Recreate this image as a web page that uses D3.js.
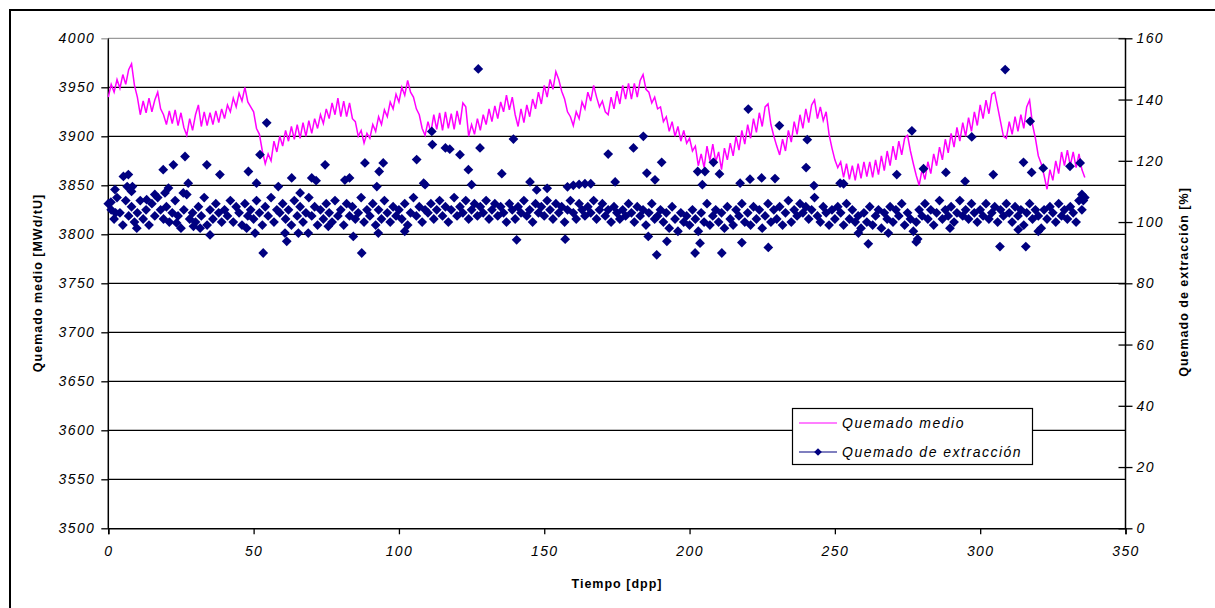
<!DOCTYPE html>
<html>
<head>
<meta charset="utf-8">
<script src="https://cdn.jsdelivr.net/npm/d3@7"></script>
<style>
  body { margin: 0; background: #fff; }
  svg { display: block; }
  .tick text { font-family: "Liberation Sans", Arial, sans-serif; font-style: italic; font-size: 14px; letter-spacing: 1.4px; fill: #000; }
  .axis-title { font-family: "Liberation Sans", Arial, sans-serif; font-weight: bold; font-size: 12.5px; letter-spacing: 1px; fill: #000; }
  .legend text { font-family: "Liberation Sans", Arial, sans-serif; font-style: italic; font-size: 14px; letter-spacing: 1.5px; fill: #000; }
</style>
</head>
<body>
<svg id="chart" width="1215" height="608"></svg>
<script>
// tick values
const xTicks = [0, 50, 100, 150, 200, 250, 300, 350];
const leftTicks = [3500, 3550, 3600, 3650, 3700, 3750, 3800, 3850, 3900, 3950, 4000];
const rightTicks = [0, 20, 40, 60, 80, 100, 120, 140, 160];

// Quemado medio [MWd/tU], one value per dpp (day 0 .. 336)
const quemadoMedio = [
  3940, 3953, 3945, 3958, 3949, 3963, 3953, 3968, 3974, 3952,
  3940, 3922, 3936, 3924, 3939, 3925, 3937, 3945, 3928, 3922,
  3912, 3926, 3913, 3927, 3911, 3924, 3909, 3901, 3918, 3906,
  3922, 3932, 3910, 3925, 3911, 3924, 3912, 3926, 3914, 3928,
  3918, 3932, 3925, 3939, 3930, 3944, 3936, 3950, 3935, 3930,
  3925, 3908, 3902, 3885, 3872, 3882, 3875, 3895, 3884, 3900,
  3890, 3906, 3895, 3910, 3897, 3912, 3898, 3914, 3900, 3916,
  3903, 3918, 3908, 3922, 3913, 3928, 3918, 3934, 3922, 3939,
  3920, 3936, 3920, 3934, 3918, 3915, 3900, 3906, 3893, 3903,
  3898, 3912, 3905, 3920, 3912, 3927, 3920, 3935, 3928, 3943,
  3935, 3950, 3942, 3957, 3945, 3940, 3928, 3922, 3908, 3901,
  3915, 3904, 3922, 3907, 3924, 3906, 3925, 3908, 3923, 3907,
  3926, 3912, 3934, 3930, 3900, 3912, 3902, 3918, 3906, 3922,
  3912, 3928, 3915, 3931, 3918, 3935, 3925, 3942, 3927, 3940,
  3922, 3910, 3928, 3914, 3932, 3920, 3938, 3928, 3945, 3933,
  3952, 3940, 3958, 3948, 3966, 3958, 3946, 3938, 3925, 3920,
  3911, 3925, 3918, 3935, 3928, 3945, 3936, 3952, 3940, 3930,
  3936, 3925, 3922, 3940, 3928, 3946, 3933, 3952, 3938, 3954,
  3938, 3954, 3940, 3957, 3963, 3948, 3945, 3934, 3940, 3928,
  3930, 3915, 3920, 3905, 3915, 3900, 3910, 3895, 3906, 3893,
  3898, 3885, 3890, 3870, 3882, 3868, 3890, 3875, 3892, 3874,
  3884, 3866, 3888, 3876, 3893, 3880, 3900, 3886, 3906, 3892,
  3912, 3898, 3918, 3904, 3924, 3910, 3930, 3933, 3912, 3900,
  3890, 3881, 3897, 3885, 3906, 3894, 3915, 3902, 3922, 3908,
  3928, 3914, 3932, 3937, 3918, 3930, 3916, 3925, 3902, 3888,
  3876, 3868, 3874, 3858, 3872, 3856, 3870, 3855, 3872, 3857,
  3874, 3859, 3874, 3858, 3876, 3861, 3880, 3865, 3885, 3870,
  3890, 3876, 3895, 3881, 3898, 3901, 3885, 3872, 3860, 3850,
  3866, 3856, 3874, 3862, 3882, 3870, 3889, 3876, 3897, 3883,
  3903, 3889, 3909, 3895, 3914, 3900, 3919, 3905, 3925, 3911,
  3932, 3918, 3937, 3923, 3943, 3945, 3930, 3915, 3900, 3898,
  3915, 3902, 3920, 3905, 3922, 3908, 3930, 3937, 3912, 3898,
  3880, 3872, 3860, 3846, 3866, 3855, 3875, 3862, 3884, 3870,
  3886, 3870, 3884, 3868, 3882, 3866, 3858
];

// Quemado de extracción [%], one extraction per dpp (day 0 .. 336)
const extraccionDiaria = [
  106, 104, 101, 108, 103, 99, 107, 102, 105, 100,
  103, 107, 101, 104, 99, 106, 102, 108, 104, 101,
  105, 100, 103, 107, 102, 98, 104, 109, 101, 103,
  100, 105, 102, 108, 99, 104, 101, 106, 103, 100,
  104, 102, 107, 100, 105, 103, 99, 106, 102, 104,
  101, 107, 103, 99, 105, 102, 108, 100, 104, 103,
  106, 101, 104, 99, 107, 102, 105, 100, 103, 108,
  102, 105, 99, 104, 101, 106, 103, 100, 107, 102,
  104, 99, 106, 102, 105, 101, 103, 108, 100, 104,
  102, 106, 99, 104, 101, 107, 103, 100, 105, 102,
  104, 101, 106, 99, 103, 108, 102, 105, 100, 104,
  103, 106, 101, 104, 107, 102, 105, 100, 104, 108,
  102, 105, 103, 107, 101, 104, 106, 102, 105, 103,
  107, 101, 104, 106, 102, 105, 103, 100, 106, 104,
  101, 105, 103, 107, 102, 104, 100, 106, 103, 105,
  102, 107, 104, 101, 106, 103, 105, 100, 104, 107,
  103, 101, 106, 104, 102, 105, 103, 107, 101, 104,
  106, 102, 104, 100, 105, 103, 101, 104, 102, 106,
  103, 100, 105, 102, 104, 99, 103, 106, 101, 102,
  104, 100, 103, 98, 105, 101, 97, 103, 100, 102,
  99, 104, 101, 97, 103, 100, 106, 99, 102, 104,
  100, 103, 98, 105, 101, 99, 104, 102, 106, 100,
  103, 99, 105, 101, 104, 98, 102, 106, 100, 104,
  101, 105, 99, 103, 107, 100, 104, 102, 106, 103,
  105, 101, 104, 108, 102, 100, 105, 103, 99, 104,
  101, 105, 103, 99, 106, 101, 104, 100, 102, 98,
  103, 100, 105, 99, 102, 104, 98, 103, 101, 105,
  100, 104, 102, 106, 99, 103, 101, 97, 100, 104,
  102, 106, 101, 104, 99, 103, 107, 101, 104, 102,
  105, 100, 103, 107, 102, 104, 101, 106, 103, 100,
  104, 102, 106, 101, 103, 105, 100, 104, 102, 106,
  103, 100, 105, 102, 104, 99, 103, 106, 101, 104,
  102, 98, 104, 101, 105, 103, 100, 106, 102, 104,
  101, 105, 103, 100, 107, 104, 108
];

// additional extractions: [dpp, %]
const extraccionExtra = [
  [0.9, 106.5], [2.3, 110.6], [2.5, 103], [5.2, 114.9], [6.9, 115.5], [6.5, 111.6], [8, 110], [8.3, 111.6], [9.8, 98], [13.2, 107.3],
  [16, 109], [18.9, 117.1], [19.5, 109.5], [20.7, 111.1], [22.4, 118.7], [23.5, 99.7], [25.8, 109.5], [26.4, 121.4], [27.5, 112.7], [29.3, 98.6],
  [31.6, 98], [33.9, 118.7], [35, 95.8], [38.4, 115.5], [47.6, 98], [48.2, 116.5], [50.5, 96.4], [51, 112.7], [52.2, 122], [53.3, 89.9],
  [54.5, 132.4], [58.5, 111.6], [60.8, 96.4], [61.4, 93.7], [63.1, 114.4], [65.4, 96.4], [66, 109.5], [68.8, 96.4], [70, 114.4], [71.5, 113.5],
  [74.6, 118.7], [75.7, 98.6], [81.4, 113.7], [83, 114.4], [84.3, 95.3], [87.2, 89.9], [88.3, 119.3], [92.4, 111.6], [92.9, 96.4], [93.2, 116.5],
  [94.6, 119.3], [102, 97], [106.1, 120.4], [108.5, 112.7], [109, 112.2], [111.3, 129.6], [111.5, 125.3], [116, 124.2], [117.5, 123.8], [121, 122],
  [123.9, 117.1], [125, 112.2], [127.3, 150], [127.9, 124.2], [135.4, 115.8], [139.4, 127.1], [140.5, 94.2], [145.1, 113.1], [147.4, 110.5], [151, 111],
  [157.2, 94.4], [158, 111.5], [160, 112], [162, 112.3], [164, 112.5], [166, 112.5], [172, 122.2], [174.4, 113.1], [180.7, 124.2], [184.1, 128],
  [185.3, 116], [185.8, 95.3], [188.1, 113.8], [188.7, 89.3], [190.4, 119.5], [192.2, 93.7], [201.9, 89.9], [203.6, 93.1], [202.8, 116.5], [205.3, 116.5],
  [204.4, 112.2], [208.2, 119.5], [210.3, 115.7], [211.1, 89.9], [217.4, 112.7], [218, 93.3], [220.2, 136.9], [220.8, 114], [224.8, 114.4], [227.1, 91.7],
  [229.4, 114.2], [230.9, 131.5], [240.1, 117.8], [240.5, 126.9], [242.8, 111.9], [251.8, 112.7], [253, 112.5], [258.1, 96.4], [261.5, 92.9], [268.4, 96.4],
  [271.3, 115.5], [276.5, 129.8], [278, 93.5], [278.5, 94.5], [280.5, 117.4], [288.2, 116.2], [289.6, 98], [294.8, 113.3], [297.1, 127.8], [304.5, 115.5],
  [306.8, 92], [308.6, 149.8], [313.1, 97.5], [315.7, 92], [314.9, 119.5], [317.2, 132.9], [317.7, 116.2], [320, 97], [321.7, 117.6], [330.9, 118.2],
  [334.4, 119.3], [335, 109], [335.5, 107]
];

const magenta = "#ff00ff";
const navy = "#000080";

const svg = d3.select("#chart");

// outer frame
svg.append("path")
  .attr("d", "M10,620 V10 H1225")
  .attr("fill", "none")
  .attr("stroke", "#000")
  .attr("stroke-width", 2);

const plot = { left: 108.3, right: 1125.5, top: 38.3, bottom: 528.3 };

const x = d3.scaleLinear().domain([0, 350]).range([plot.left, plot.right]);
const yL = d3.scaleLinear().domain([3500, 4000]).range([plot.bottom, plot.top]);
const yR = d3.scaleLinear().domain([0, 160]).range([plot.bottom, plot.top]);

// horizontal gridlines from the left axis
svg.append("g")
  .selectAll("line")
  .data(leftTicks.slice(1))
  .enter()
  .append("line")
    .attr("x1", plot.left)
    .attr("x2", plot.right)
    .attr("y1", d => yL(d))
    .attr("y2", d => yL(d))
    .attr("stroke", d => d === 4000 ? "#9a9a9a" : "#000")
    .attr("stroke-width", 1.3);

// axes
const leftAxis = svg.append("g")
  .attr("transform", `translate(${plot.left},0)`)
  .call(d3.axisLeft(yL).tickValues(leftTicks).tickSize(7).tickPadding(6).tickFormat(d3.format("d")));

const rightAxis = svg.append("g")
  .attr("transform", `translate(${plot.right},0)`)
  .call(d3.axisRight(yR).tickValues(rightTicks).tickSize(7).tickPadding(4).tickFormat(d3.format("d")));
rightAxis.selectAll(".tick line").attr("x1", -7);

const bottomAxis = svg.append("g")
  .attr("transform", `translate(0,${plot.bottom})`)
  .call(d3.axisBottom(x).tickValues(xTicks).tickSize(6).tickPadding(12).tickFormat(d3.format("d")));

[leftAxis, rightAxis, bottomAxis].forEach(a => {
  a.selectAll(".domain").attr("stroke", "#000").attr("stroke-width", 1.5);
  a.selectAll(".tick line").attr("stroke", "#000").attr("stroke-width", 1.3);
  a.selectAll(".tick text").attr("font-family", null).attr("font-size", null);
});
leftAxis.selectAll(".tick:last-of-type line").attr("stroke", "#9a9a9a");
rightAxis.selectAll(".domain").attr("d", `M0,${plot.bottom}V${plot.top}`);
leftAxis.selectAll(".domain").attr("d", `M0,${plot.bottom}V${plot.top}`);

// Quemado medio line
const line = d3.line()
  .x((d, i) => x(i))
  .y(d => yL(d));

svg.append("path")
  .datum(quemadoMedio)
  .attr("d", line)
  .attr("fill", "none")
  .attr("stroke", magenta)
  .attr("stroke-width", 1.5);

// Quemado de extracción points
const puntos = extraccionDiaria.map((v, i) => [i, v]).concat(extraccionExtra);
const diamond = d3.symbol().type(d3.symbolSquare).size(48);

svg.append("g")
  .selectAll("path")
  .data(puntos)
  .enter()
  .append("path")
    .attr("d", diamond)
    .attr("transform", d => `translate(${x(d[0])},${yR(d[1])}) rotate(45)`)
    .attr("fill", navy);

// axis titles
svg.append("text")
  .attr("class", "axis-title")
  .attr("x", 617)
  .attr("y", 588)
  .attr("text-anchor", "middle")
  .text("Tiempo [dpp]");

svg.append("text")
  .attr("class", "axis-title")
  .attr("transform", "translate(42,283) rotate(-90)")
  .attr("text-anchor", "middle")
  .text("Quemado medio [MWd/tU]");

svg.append("text")
  .attr("class", "axis-title")
  .attr("transform", "translate(1188,282) rotate(-90)")
  .attr("text-anchor", "middle")
  .text("Quemado de extracción [%]");

// legend
const legend = svg.append("g").attr("class", "legend");
legend.append("rect")
  .attr("x", 792.5).attr("y", 408.5)
  .attr("width", 240).attr("height", 56)
  .attr("fill", "#fff")
  .attr("stroke", "#000")
  .attr("stroke-width", 1.2);

const legendItems = [
  { label: "Quemado medio", color: magenta, marker: false },
  { label: "Quemado de extracción", color: navy, marker: true }
];

legendItems.forEach((item, i) => {
  const cy = 423 + i * 29;
  legend.append("line")
    .attr("x1", 799).attr("x2", 837)
    .attr("y1", cy).attr("y2", cy)
    .attr("stroke", item.color)
    .attr("stroke-width", 1.2);
  if (item.marker) {
    legend.append("path")
      .attr("d", d3.symbol().type(d3.symbolSquare).size(30))
      .attr("transform", `translate(818,${cy}) rotate(45)`)
      .attr("fill", item.color);
  }
  legend.append("text")
    .attr("x", 842)
    .attr("y", cy + 5)
    .text(item.label);
});
</script>
</body>
</html>
